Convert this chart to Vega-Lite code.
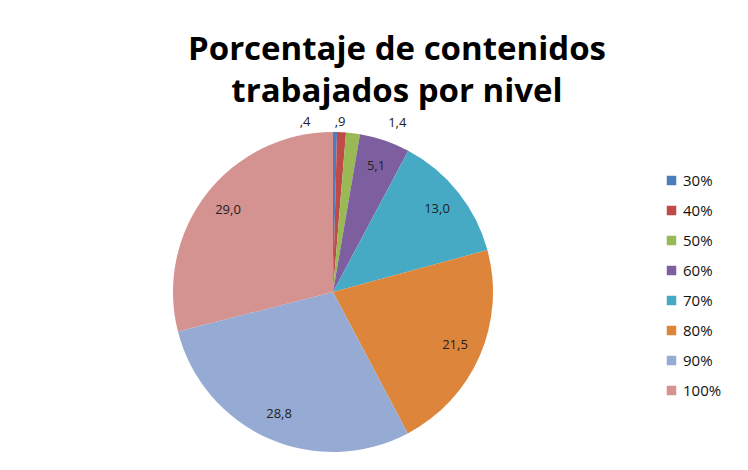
{
  "$schema": "https://vega.github.io/schema/vega-lite/v6.json",
  "autosize": "none",
  "width": 646,
  "height": 354,
  "padding": {"left": 10, "top": 115, "right": 92, "bottom": 1},
  "background": "white",
  "view": {"stroke": null},
  "title": {
    "text": ["Porcentaje de contenidos", "trabajados por nivel"],
    "font": "Open Sans",
    "fontSize": 33,
    "fontWeight": "bold",
    "color": "#000000",
    "anchor": "middle",
    "dx": 64,
    "offset": 6,
    "lineHeight": 42
  },
  "data": {
    "values": [
      {"nivel": "30%", "value": 0.4, "ord": 1, "label": ",4"},
      {"nivel": "40%", "value": 0.9, "ord": 2, "label": ",9"},
      {"nivel": "50%", "value": 1.4, "ord": 3, "label": "1,4"},
      {"nivel": "60%", "value": 5.1, "ord": 4, "label": "5,1"},
      {"nivel": "70%", "value": 13.0, "ord": 5, "label": "13,0"},
      {"nivel": "80%", "value": 21.5, "ord": 6, "label": "21,5"},
      {"nivel": "90%", "value": 28.8, "ord": 7, "label": "28,8"},
      {"nivel": "100%", "value": 29.0, "ord": 8, "label": "29,0"}
    ]
  },
  "encoding": {
    "theta": {"field": "value", "type": "quantitative", "stack": true},
    "order": {"field": "ord", "type": "quantitative"}
  },
  "layer": [
    {
      "mark": {"type": "arc", "outerRadius": 160},
      "encoding": {
        "color": {
          "field": "nivel",
          "type": "nominal",
          "scale": {
            "domain": ["30%", "40%", "50%", "60%", "70%", "80%", "90%", "100%"],
            "range": ["#4A7EBB", "#BE4B48", "#98B954", "#7D5FA0", "#46AAC5", "#DE853C", "#95ABD3", "#D49391"]
          },
          "legend": {
            "title": null,
            "orient": "none",
            "legendX": 654,
            "legendY": 58,
            "symbolType": "square",
            "symbolSize": 90,
            "symbolStrokeWidth": 0,
            "labelFont": "Open Sans",
            "labelFontSize": 15,
            "labelColor": "#111111",
            "labelOffset": 4,
            "rowPadding": 14
          }
        }
      }
    },
    {
      "mark": {"type": "text", "radius": 133, "font": "Open Sans", "fontSize": 13, "color": "#222222"},
      "encoding": {
        "detail": {"field": "nivel", "type": "nominal"},
        "text": {"condition": {"test": "datum.value >= 5", "field": "label"}, "value": ""}
      }
    },
    {
      "mark": {
        "type": "text",
        "radius": 170,
        "font": "Open Sans",
        "fontSize": 13,
        "color": "#222222",
        "dx": {"expr": "datum.nivel === '30%' ? -30 : (datum.nivel === '50%' ? 43 : -2)"}
      },
      "encoding": {
        "detail": {"field": "nivel", "type": "nominal"},
        "text": {"condition": {"test": "datum.value < 5", "field": "label"}, "value": ""}
      }
    }
  ]
}
